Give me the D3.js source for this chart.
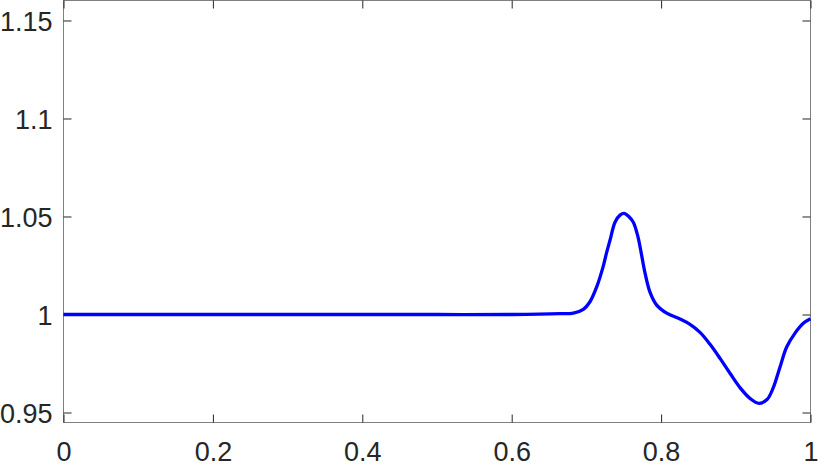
<!DOCTYPE html>
<html>
<head>
<meta charset="utf-8">
<script src="https://cdn.jsdelivr.net/npm/d3@7"></script>
<style>
  html, body { margin: 0; padding: 0; background: #fff; }
  svg { display: block; }
  text { font-family: "Liberation Sans", Arial, Helvetica, sans-serif; }
</style>
</head>
<body>
<svg id="chart" width="830" height="467"></svg>
<script>
// ---- data ----
const xValues = [0, 0.1, 0.2, 0.3, 0.4, 0.5, 0.6, 0.6647, 0.6825, 0.6959, 0.7048, 0.7138, 0.7226, 0.7262, 0.7316, 0.7383, 0.745, 0.7507, 0.757, 0.7628, 0.7691, 0.7739, 0.7785, 0.7851, 0.7941, 0.8075, 0.8253, 0.8387, 0.8521, 0.8655, 0.8789, 0.8922, 0.9056, 0.919, 0.931, 0.9418, 0.9502, 0.9592, 0.9681, 0.9793, 0.9904, 1.0];
const yValues = [1, 1, 1, 1, 1, 1, 1, 1.0004, 1.0007, 1.0026, 1.0065, 1.0141, 1.0247, 1.0303, 1.0379, 1.0471, 1.0507, 1.0516, 1.0499, 1.0471, 1.0395, 1.0303, 1.0211, 1.0114, 1.0048, 1.0007, 0.9977, 0.995, 0.9909, 0.9848, 0.9776, 0.97, 0.9627, 0.9572, 0.9547, 0.9566, 0.9627, 0.9732, 0.9834, 0.9905, 0.9955, 0.9978];
const xTicks = [0, 0.2, 0.4, 0.6, 0.8, 1];
const xTickLabels = ["0", "0.2", "0.4", "0.6", "0.8", "1"];
const yTicks = [0.95, 1, 1.05, 1.1, 1.15];
const yTickLabels = ["0.95", "1", "1.05", "1.1", "1.15"];
const xDomain = [0, 1];
const yDomain = [0.9449, 1.1602];

// ---- layout ----
const mLeft = 63.5, mRight = 810.5, mTop = 0.5, mBottom = 422.5;
const svg = d3.select("#chart");
const x = d3.scaleLinear().domain(xDomain).range([mLeft, mRight]);
const y = d3.scaleLinear().domain(yDomain).range([mBottom, mTop]);

const axisColor = "#262626";
const fontSize = 27;

// box
svg.append("rect")
  .attr("x", mLeft).attr("y", mTop)
  .attr("width", mRight - mLeft).attr("height", mBottom - mTop)
  .attr("fill", "none").attr("stroke", "#808080").attr("stroke-width", 1);

// left axis
const gL = svg.append("g").attr("transform", `translate(${mLeft},0)`)
  .call(d3.axisLeft(y).tickValues(yTicks).tickFormat((d, i) => yTickLabels[i])
    .tickSizeInner(-8).tickSizeOuter(0).tickPadding(11));
// right axis ticks
const gR = svg.append("g").attr("transform", `translate(${mRight},0)`)
  .call(d3.axisRight(y).tickValues(yTicks).tickFormat("")
    .tickSizeInner(-8).tickSizeOuter(0));
// bottom axis
const gB = svg.append("g").attr("transform", `translate(0,${mBottom})`)
  .call(d3.axisBottom(x).tickValues(xTicks).tickFormat((d, i) => xTickLabels[i])
    .tickSizeInner(-8).tickSizeOuter(0));
// top axis ticks
const gT = svg.append("g").attr("transform", `translate(0,${mTop})`)
  .call(d3.axisTop(x).tickValues(xTicks).tickFormat("")
    .tickSizeInner(-8).tickSizeOuter(0));

[gL, gR, gB, gT].forEach(g => {
  g.select(".domain").remove();
  g.selectAll(".tick line").attr("stroke", axisColor).attr("stroke-width", 1);
  g.selectAll("text").attr("fill", axisColor).attr("font-size", fontSize)
    .attr("font-family", '"Liberation Sans", Arial, Helvetica, sans-serif');
});
gB.selectAll(".tick text").attr("y", 38.5).attr("dy", 0);
gL.selectAll(".tick text").attr("dy", "0.36em");

// curve
const pts = xValues.map((d, i) => [d, yValues[i]]);
const line = d3.line().x(d => x(d[0])).y(d => y(d[1])).curve(d3.curveCatmullRom.alpha(0.5));
svg.append("path")
  .datum(pts)
  .attr("d", line)
  .attr("fill", "none")
  .attr("stroke", "#0000ff")
  .attr("stroke-width", 3.3)
  .attr("stroke-linejoin", "round");
</script>
</body>
</html>
